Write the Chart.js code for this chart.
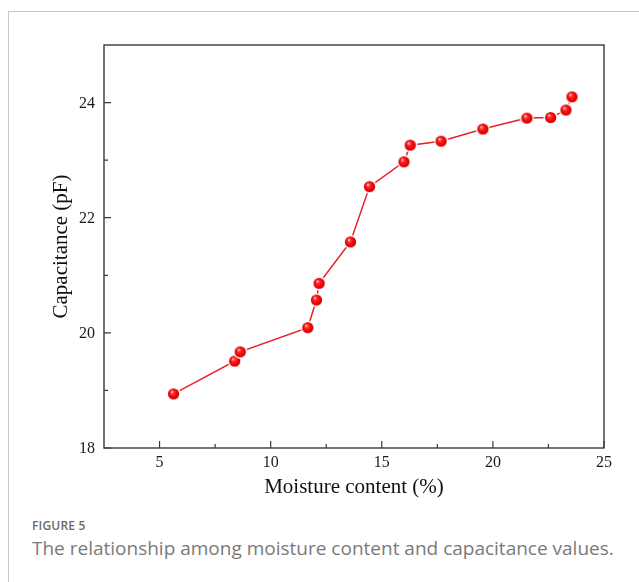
<!DOCTYPE html>
<html>
<head>
<meta charset="utf-8">
<script src="https://cdn.jsdelivr.net/npm/chart.js@4.4.1/dist/chart.umd.min.js"></script>
<style>
  html, body { margin: 0; padding: 0; background: #fff; }
  body { width: 639px; height: 582px; position: relative; overflow: hidden; }
  #frame { position: absolute; left: 8px; top: 11px; width: 640px; height: 580px;
           border-top: 1px solid #c9c9c9; border-left: 1px solid #c9c9c9; }
  #wrap { position: absolute; left: 0; top: 0; width: 639px; height: 500px; }
  .cap1 { position: absolute; left: 32px; top: 517px; font-family: "Open Sans", sans-serif;
          font-size: 12px; font-weight: 600; color: #6b6b6b; letter-spacing: 0.2px; }
  .cap2 { position: absolute; left: 32px; top: 535px; font-family: "Open Sans", sans-serif;
          font-size: 19px; color: #7a7a7a; }
</style>
</head>
<body>
<div id="frame"></div>
<div id="wrap"><canvas id="c" width="639" height="500"></canvas></div>
<div class="cap1">FIGURE 5</div>
<div class="cap2">The relationship among moisture content and capacitance values.</div>
<script>
// Moisture content (%) and measured capacitance (pF)
const moisture    = [5.63, 8.38, 8.63, 11.67, 12.06, 12.18, 13.59, 14.45, 16.00, 16.28, 17.67, 19.55, 21.53, 22.60, 23.29, 23.56];
const capacitance = [18.94, 19.51, 19.67, 20.09, 20.57, 20.86, 21.58, 22.54, 22.97, 23.26, 23.33, 23.54, 23.73, 23.74, 23.87, 24.10];

const xTicks      = [5, 10, 15, 20, 25];
const xMinorTicks = [7.5, 12.5, 17.5, 22.5];
const yTicks      = [18, 20, 22, 24];
const yMinorTicks = [19, 21, 23];

const serif = "'Liberation Serif', 'Times New Roman', serif";

// Shaded red sphere used as the marker
function makeSphere() {
  const s = 15, c = document.createElement('canvas');
  c.width = s; c.height = s;
  const g = c.getContext('2d');
  const m = s / 2;
  g.beginPath(); g.arc(m, m, 7, 0, Math.PI * 2); g.fillStyle = '#fff'; g.fill();
  const grad = g.createRadialGradient(m - 1.8, m - 2.2, 0.3, m, m, 5.6);
  grad.addColorStop(0, '#ffd0d0');
  grad.addColorStop(0.3, '#ff2a2a');
  grad.addColorStop(0.75, '#f00000');
  grad.addColorStop(1, '#b80000');
  g.beginPath(); g.arc(m, m, 5.6, 0, Math.PI * 2); g.fillStyle = grad; g.fill();
  return c;
}
const sphere = makeSphere();

// Box frame, inward major/minor tick marks and serif tick labels
const framePlugin = {
  id: 'frameTicks',
  afterDraw(chart) {
    const { ctx, chartArea: a, scales: { x, y } } = chart;
    ctx.save();
    ctx.strokeStyle = '#3a3a3a';
    ctx.lineWidth = 1.4;
    ctx.strokeRect(a.left, a.top, a.right - a.left, a.bottom - a.top);
    ctx.lineWidth = 1.2;
    ctx.beginPath();
    xTicks.forEach(v => { const p = x.getPixelForValue(v); ctx.moveTo(p, a.bottom); ctx.lineTo(p, a.bottom - 7); });
    xMinorTicks.forEach(v => { const p = x.getPixelForValue(v); ctx.moveTo(p, a.bottom); ctx.lineTo(p, a.bottom - 4); });
    yTicks.forEach(v => { const p = y.getPixelForValue(v); ctx.moveTo(a.left, p); ctx.lineTo(a.left + 7, p); });
    yMinorTicks.forEach(v => { const p = y.getPixelForValue(v); ctx.moveTo(a.left, p); ctx.lineTo(a.left + 4, p); });
    ctx.stroke();

    ctx.fillStyle = '#1a1a1a';
    ctx.font = '16px ' + serif;
    ctx.textBaseline = 'middle';
    ctx.textAlign = 'center';
    xTicks.forEach(v => ctx.fillText(String(v), x.getPixelForValue(v), a.bottom + 15));
    ctx.textAlign = 'right';
    yTicks.forEach(v => ctx.fillText(String(v), a.left - 9, y.getPixelForValue(v) + 1));
    ctx.restore();
  }
};

new Chart(document.getElementById('c'), {
  type: 'scatter',
  data: {
    datasets: [{
      data: moisture.map((m, i) => ({ x: m, y: capacitance[i] })),
      showLine: true,
      borderColor: 'rgb(232,30,40)',
      borderWidth: 1.5,
      pointStyle: sphere,
      pointRadius: 6,
      pointHoverRadius: 6
    }]
  },
  options: {
    responsive: false,
    devicePixelRatio: 1,
    animation: false,
    layout: { padding: { left: 0, top: 45, right: 35, bottom: 0 } },
    plugins: { legend: { display: false }, tooltip: { enabled: false } },
    scales: {
      x: {
        type: 'linear', min: 2.5, max: 25,
        afterBuildTicks: s => { s.ticks = xTicks.map(v => ({ value: v })); },
        afterFit: s => { s.height = 52; },
        grid: { display: false, drawTicks: false },
        border: { display: false },
        ticks: { display: false },
        title: { display: true, text: 'Moisture content (%)', color: '#111',
                 font: { family: serif, size: 21 }, padding: { top: 0, bottom: 0 } }
      },
      y: {
        type: 'linear', min: 18, max: 25,
        afterBuildTicks: s => { s.ticks = yTicks.map(v => ({ value: v })); },
        afterFit: s => { s.width = 104; },
        grid: { display: false, drawTicks: false },
        border: { display: false },
        ticks: { display: false },
        title: { display: true, text: 'Capacitance (pF)', color: '#111',
                 font: { family: serif, size: 21 }, padding: { top: 49, bottom: 0 } }
      }
    }
  },
  plugins: [framePlugin]
});
</script>
</body>
</html>
